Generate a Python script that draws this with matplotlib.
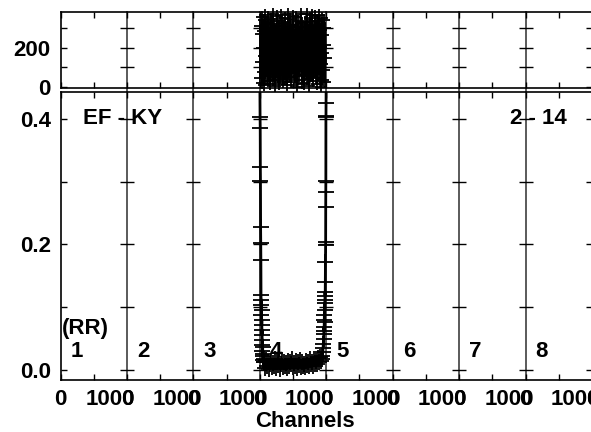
import matplotlib
matplotlib.use('Agg')
import matplotlib.pyplot as plt
from matplotlib.ticker import MultipleLocator, FixedLocator, FixedFormatter
import matplotlib.transforms as mtransforms

plt.rcParams['font.family'] = ['Liberation Sans', 'DejaVu Sans']
plt.rcParams['font.weight'] = 'bold'

# ---------------- data ----------------
segment_numbers = ['1', '2', '3', '4', '5', '6', '7', '8']
segment_edges = [0, 1000, 2000, 3000, 4000, 5000, 6000, 7000, 8000]
segment_tick_label_start = '0'
segment_tick_label_end = '1000'
ef_label = 'EF - KY'
run_label = '2 - 14'
rr_label = '(RR)'
x_title = 'Channels'

# top panel: raw counts in segment 4
top_ch_start = 3002
top_ch_step = 6
top_counts = [312, 45, 268, 130, 355, 22, 198, 287, 76, 340, 158, 9, 241, 366, 104,
              219, 58, 331, 176, 274, 31, 357, 142, 88, 299, 205, 15, 348, 121, 263,
              67, 190, 371, 38, 254, 160, 322, 96, 5, 283, 227, 139, 360, 52, 309,
              182, 73, 246, 337, 18, 212, 118, 295, 61, 368, 154, 237, 27, 325, 101,
              276, 194, 42, 351, 166, 83, 259, 12, 303, 223, 135, 372, 49, 289, 170,
              94, 345, 208, 24, 266, 148, 318, 70, 233, 363, 110, 187, 35, 292, 251,
              127, 356, 80, 214, 3, 334, 163, 272, 56, 305, 201, 145, 369, 91, 248,
              19, 327, 174, 114, 282,
              240, 17, 330, 152, 64, 287, 199, 373, 40, 261, 126, 315, 85, 230, 8,
              349, 178, 102, 296, 54, 364, 143, 221, 29, 310, 189, 78, 270, 361, 133,
              47, 255, 196, 338, 14, 280, 112, 367, 66, 244, 157, 323, 2, 203, 290,
              119, 353, 37, 264, 172, 86, 342, 215, 26, 301, 150]

# bottom panel: ratio curve in segment 4
curve_ch = [3000, 3004, 3006, 3008, 3010, 3012, 3014, 3016, 3018, 3020, 3022, 3024,
            3026, 3028, 3030, 3032, 3034, 3036, 3038, 3040, 3043, 3046, 3050, 3055,
            3060, 3066,
            3070, 3085, 3100, 3115, 3130, 3145, 3160, 3175, 3190, 3205, 3220, 3235,
            3250, 3265, 3280, 3295, 3310, 3325, 3340, 3355, 3370, 3385, 3400, 3415,
            3430, 3445, 3460, 3475, 3490, 3505, 3520, 3535, 3550, 3565, 3580, 3595,
            3610, 3625, 3640, 3655, 3670, 3685, 3700, 3715, 3730, 3745, 3760, 3775,
            3790, 3805, 3820, 3835, 3850, 3865, 3880, 3895, 3910, 3925,
            3935, 3942, 3948, 3952, 3956, 3960, 3963, 3966, 3968, 3970, 3972, 3974,
            3976, 3978, 3980, 3982, 3984, 3986, 3988, 3990, 3991, 3992, 3993, 3994,
            3995, 3996, 3997, 3999]
curve_val = [0.47, 0.403, 0.386, 0.324, 0.301, 0.228, 0.202, 0.175, 0.120, 0.104,
             0.112, 0.088, 0.096, 0.072, 0.080, 0.056, 0.064, 0.040, 0.048, 0.030,
             0.036, 0.022, 0.026, 0.016, 0.018, 0.012,
             0.012, 0.003, 0.016, 0.006, 0.013, 0.002, 0.010, 0.015, 0.004, 0.011,
             0.007, 0.017, 0.003, 0.012, 0.008, 0.014, 0.002, 0.010, 0.016, 0.005,
             0.013, 0.007, 0.011, 0.003, 0.015, 0.006, 0.012, 0.009, 0.017, 0.004,
             0.011, 0.006, 0.014, 0.003, 0.012, 0.008, 0.016, 0.005, 0.013, 0.007,
             0.010, 0.004, 0.015, 0.008, 0.012, 0.006, 0.017, 0.009, 0.013, 0.007,
             0.018, 0.010, 0.015, 0.009, 0.019, 0.012, 0.020, 0.014,
             0.018, 0.022, 0.028, 0.035, 0.042, 0.050, 0.058, 0.069, 0.062, 0.080,
             0.088, 0.076, 0.107, 0.096, 0.112, 0.124, 0.118, 0.140, 0.172, 0.199,
             0.204, 0.260, 0.284, 0.301, 0.403, 0.405, 0.425, 0.47]

bot_major = [0.0, 0.2, 0.4]
bot_minor = [0.1, 0.3]
top_major = [0, 200]
top_minor = [100, 300]

# ---------------- figure ----------------
W, H = 591, 432
fig = plt.figure(figsize=(W / 100, H / 100), dpi=100)


def rect(l, t, r, b):
    return [l / W, 1 - b / H, (r - l) / W, (b - t) / H]


ax_top = fig.add_axes(rect(60.5, 12.3, 592, 87.7))
ax_bot = fig.add_axes(rect(60.5, 91.7, 592, 380))

FS = 16
for ax in (ax_top, ax_bot):
    ax.set_xlim(segment_edges[0], segment_edges[-1])
    for s in ax.spines.values():
        s.set_linewidth(1.2)
    ax.xaxis.set_major_locator(FixedLocator(segment_edges))
    ax.xaxis.set_minor_locator(MultipleLocator(500))
    ax.tick_params(which='both', direction='in', top=True, right=True,
                   length=4.5, width=1.0, labelsize=FS)

ax_top.set_ylim(-3, 380)
ax_bot.set_ylim(-0.016, 0.4435)

ax_top.yaxis.set_major_locator(FixedLocator(top_major))
ax_top.yaxis.set_minor_locator(FixedLocator(top_minor))
ax_top.yaxis.set_major_formatter(FixedFormatter([str(v) for v in top_major]))
ax_bot.yaxis.set_major_locator(FixedLocator(bot_major))
ax_bot.yaxis.set_minor_locator(FixedLocator(bot_minor))
ax_bot.yaxis.set_major_formatter(FixedFormatter(['%.1f' % v for v in bot_major]))
ax_top.tick_params(axis='y', pad=7)
ax_bot.tick_params(axis='y', pad=7)

ax_top.tick_params(axis='x', labelbottom=False)
ax_bot.xaxis.set_major_formatter(FixedFormatter([segment_tick_label_start] * len(segment_edges)))
ax_bot.tick_params(axis='x', pad=6.5)

# "1000" labels at the end of each segment
trans = mtransforms.offset_copy(ax_bot.get_xaxis_transform(), fig=fig,
                                x=6.0, y=-6.5, units='points')
for e in segment_edges[1:]:
    ax_bot.text(e, 0, segment_tick_label_end, transform=trans, ha='right', va='top',
                fontsize=FS, fontweight='bold', clip_on=False)

ax_bot.set_xlabel(x_title, fontsize=FS, fontweight='bold')
ax_bot.xaxis.set_label_coords(0.459, -0.108)

# segment dividers with cross marks
dividers = segment_edges[1:-1]
for d in dividers:
    ax_top.axvline(d, ymin=-0.06, ymax=1, color='0.3', lw=1.3, clip_on=False, zorder=1)
    ax_bot.axvline(d, color='0.3', lw=1.3, zorder=1)
    ax_top.plot([d] * len(top_minor + top_major[1:]), top_minor + top_major[1:],
                ls='none', marker='_', ms=10, mew=1.0, color='black', zorder=2)
    ax_bot.plot([d] * len(bot_major + bot_minor), bot_major + bot_minor,
                ls='none', marker='_', ms=10, mew=1.0, color='black', zorder=2)

# top data
top_ch = [top_ch_start + i * top_ch_step for i in range(len(top_counts))]
ax_top.plot(top_ch, top_counts, color='black', lw=1.3, marker='+', ms=9, mew=1.3,
            clip_on=False, zorder=3)

# bottom data
ax_bot.plot(curve_ch, curve_val, color='black', lw=2.0, marker='+', ms=11, mew=1.3,
            zorder=3)

# annotations
ax_bot.text(340, 0.40, ef_label, fontsize=FS, fontweight='bold', ha='left', va='center', zorder=5)
ax_bot.text(6765, 0.40, run_label, fontsize=FS, fontweight='bold', ha='left', va='center', zorder=5)
ax_bot.text(25, 0.066, rr_label, fontsize=FS, fontweight='bold', ha='left', va='center', zorder=5)
for i, lab in enumerate(segment_numbers):
    ax_bot.text(segment_edges[i] + 150, 0.029, lab, fontsize=FS, fontweight='bold',
                ha='left', va='center', zorder=5)

fig.savefig('out.png', dpi=100)
